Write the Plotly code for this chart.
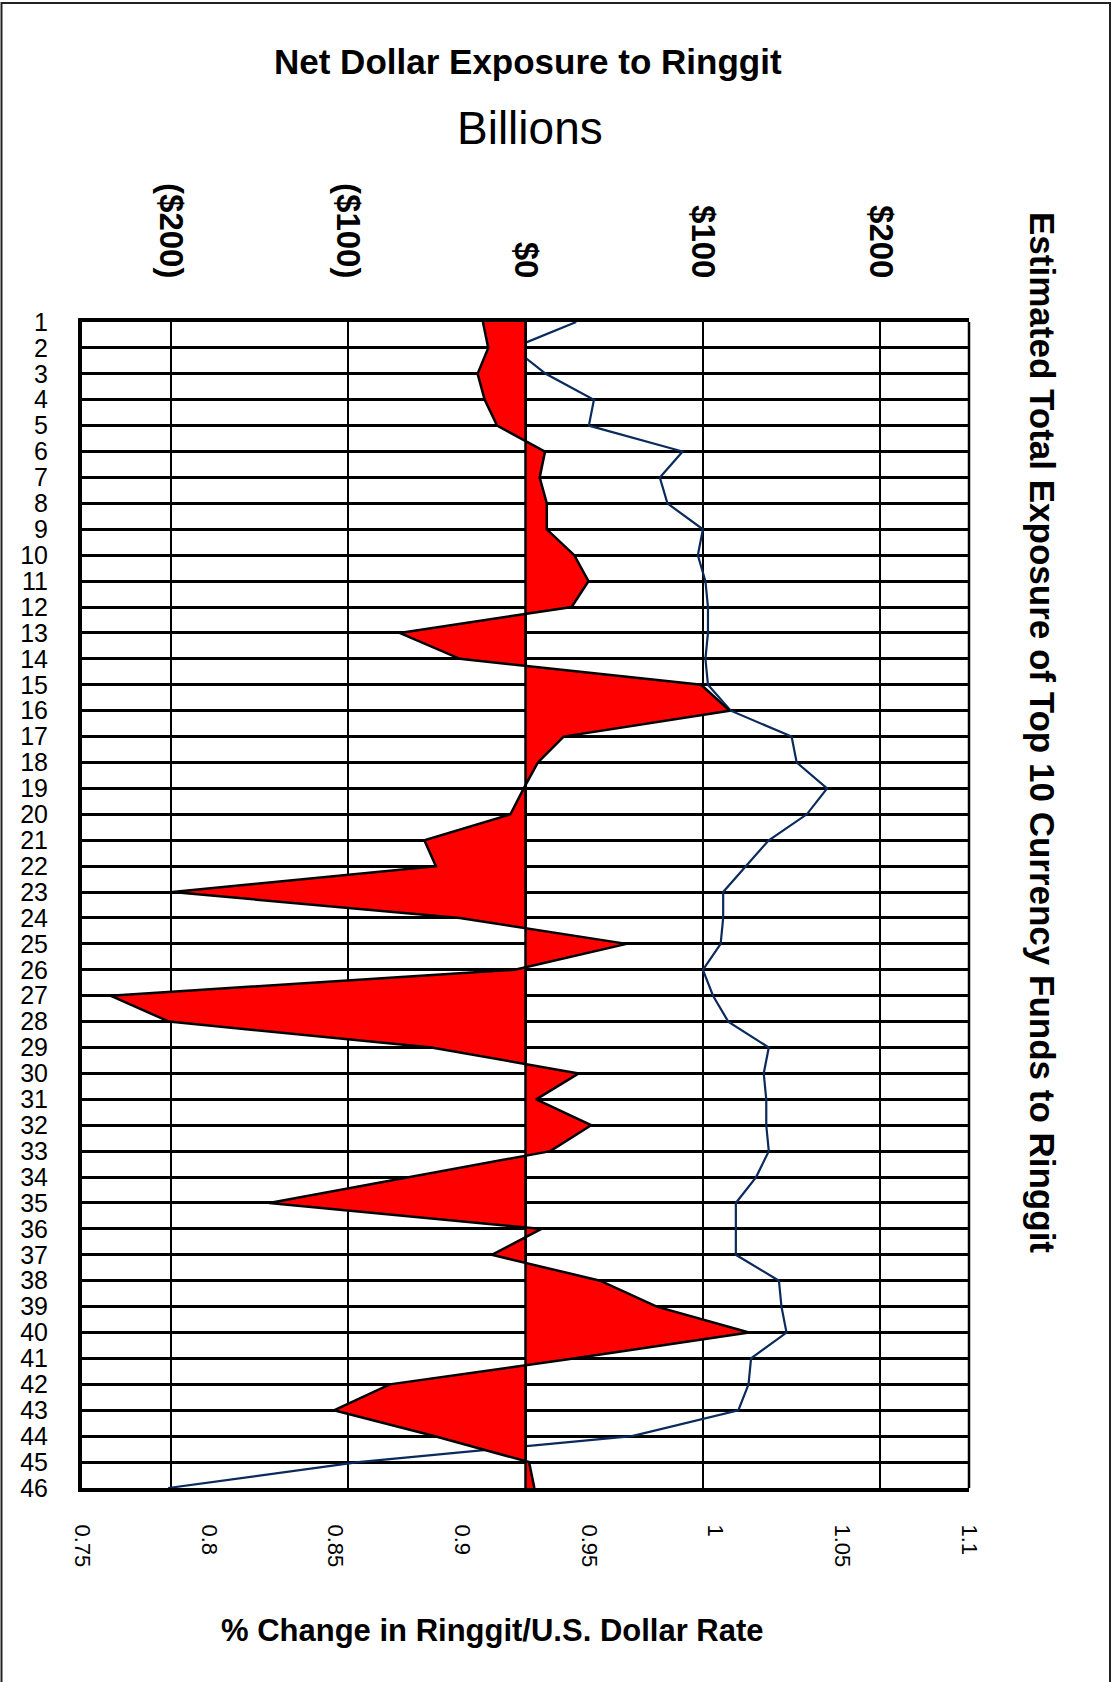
import plotly.graph_objects as go

# ---------------- data ----------------
periods = list(range(1, 47))

net_exposure = [  # $ billions (top axis)
    -24, -21, -27, -23, -16, 11, 8, 12, 12, 27.5,
    35.5, 26, -71, -37, 99, 115, 21.5, 7, -1, -8.5,
    -57, -50.5, -199, -37, 57, -6, -234, -201, -53, 30,
    6, 37, 14, -65, -144.5, 9, -19, 42, 74, 126,
    27, -76.5, -108, -51, 2, 5,
]

rate_change = [  # Ringgit / U.S. dollar rate (bottom axis)
    0.945, 0.920, 0.933, 0.952, 0.950, 0.987, 0.978, 0.981, 0.995, 0.993,
    0.996, 0.997, 0.997, 0.996, 0.997, 1.006, 1.030, 1.032, 1.044, 1.036,
    1.021, 1.012, 1.003, 1.003, 1.002, 0.995, 0.999, 1.005, 1.021, 1.019,
    1.020, 1.020, 1.021, 1.016, 1.008, 1.008, 1.008, 1.025, 1.026, 1.028,
    1.014, 1.013, 1.009, 0.967, 0.859, 0.784,
]

bottom_ticks = [0.75, 0.8, 0.85, 0.9, 0.95, 1.0, 1.05, 1.1]
bottom_labels = ["0.75", "0.8", "0.85", "0.9", "0.95", "1", "1.05", "1.1"]
top_ticks = [-200, -100, 0, 100, 200]
top_labels = ["($200)", "($100)", "$0", "$100", "$200"]

title_text = "Net Dollar Exposure to Ringgit"
subtitle_text = "Billions"
right_title = "Estimated Total Exposure of Top 10 Currency Funds to Ringgit"
bottom_title = "% Change in Ringgit/U.S. Dollar Rate"

# ---------------- layout geometry ----------------
W, H = 1116, 1682
L, R, T, B = 82, 969, 322, 1488
FONT = "Liberation Sans, Arial, sans-serif"


def px(x):
    return (x - L) / (R - L)


def py(y):
    return (B - y) / (B - T)


fig = go.Figure()

fig.add_trace(go.Scatter(
    x=net_exposure, y=periods, xaxis="x2", yaxis="y",
    mode="lines", fill="tozerox", fillcolor="#FF0000",
    line=dict(color="black", width=2.5), hoverinfo="x+y",
    showlegend=False,
))
fig.add_trace(go.Scatter(
    x=rate_change, y=periods, xaxis="x", yaxis="y",
    mode="lines", line=dict(color="#0B2A5B", width=2.2),
    showlegend=False,
))

fig.update_layout(
    width=W, height=H,
    margin=dict(l=L, r=W - R, t=T, b=H - B, pad=0),
    paper_bgcolor="white", plot_bgcolor="white",
    font=dict(family=FONT, color="black"),
    xaxis=dict(
        range=[0.75, 1.1], tickvals=bottom_ticks, ticktext=bottom_labels,
        tickangle=90, showgrid=False, zeroline=False,
        showline=True, linewidth=4, linecolor="black",
        ticks="", ticklabelstandoff=28,
        tickfont=dict(family=FONT, size=22, color="black"),
    ),
    xaxis2=dict(
        range=[-250, 250], overlaying="x", side="top",
        tickvals=top_ticks, ticktext=top_labels, tickangle=90,
        showgrid=True, gridcolor="black", gridwidth=2, zeroline=False,
        showline=True, linewidth=4, linecolor="black",
        ticks="", ticklabelstandoff=28,
        tickfont=dict(family=FONT, size=33, color="black", weight="bold"),
    ),
    yaxis=dict(
        range=[46, 1], tickvals=periods, ticktext=[str(p) for p in periods],
        showgrid=True, gridcolor="black", gridwidth=2.5, zeroline=False,
        showline=True, linewidth=4, linecolor="black",
        ticks="", ticklabelstandoff=25,
        tickfont=dict(family=FONT, size=25, color="black"),
    ),
)

fig.add_shape(type="line", xref="x2", yref="paper", x0=0, x1=0, y0=0, y1=1,
              line=dict(color="black", width=2.5), layer="above")
fig.add_shape(type="line", xref="paper", yref="paper", x0=1, x1=1, y0=0, y1=1,
              line=dict(color="black", width=2.5), layer="above")
# outer frame
fig.add_shape(type="rect", xref="paper", yref="paper",
              x0=px(1.5), x1=px(1110), y0=py(3), y1=py(1700),
              line=dict(color="#222", width=2), layer="above")

fig.add_annotation(text=f"<b>{title_text}</b>", xref="paper", yref="paper",
                   x=px(528), y=py(61), xanchor="center", yanchor="middle",
                   showarrow=False, font=dict(family=FONT, size=35, color="black"))
fig.add_annotation(text=subtitle_text, xref="paper", yref="paper",
                   x=px(530), y=py(128), xanchor="center", yanchor="middle",
                   showarrow=False, font=dict(family=FONT, size=46, color="black"))
fig.add_annotation(text=f"<b>{right_title}</b>", xref="paper", yref="paper",
                   x=px(1043), y=py(732), xanchor="center", yanchor="middle",
                   textangle=90, showarrow=False,
                   font=dict(family=FONT, size=35, color="black"))
fig.add_annotation(text=f"<b>{bottom_title}</b>", xref="paper", yref="paper",
                   x=px(492), y=py(1630), xanchor="center", yanchor="middle",
                   showarrow=False, font=dict(family=FONT, size=31, color="black"))

fig.write_html("out.html", config={"displayModeBar": False},
               post_script="document.body.style.margin='0px';")
